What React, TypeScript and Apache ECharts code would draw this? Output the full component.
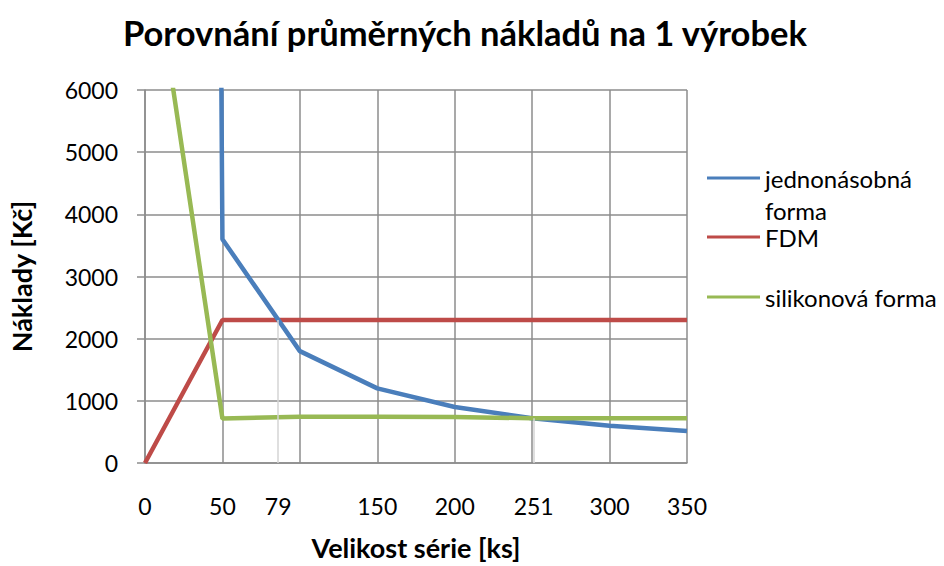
import React, { useEffect, useRef } from "react";
import * as echarts from "echarts";

const titleText = "Porovnání průměrných nákladů na 1 výrobek";
const xAxisName = "Velikost série [ks]";
const yAxisName = "Náklady [Kč]";

const seriesNames = ["jednonásobná forma", "FDM", "silikonová forma"];
const seriesColors = ["#4A7EBB", "#BE4B48", "#98B954"];

const singleMold: [number, number][] = [
  [1, 180000], [50, 3600], [100, 1800], [150, 1200], [200, 900], [250, 720], [300, 600], [350, 514],
];
const fdm: [number, number][] = [
  [0, 0], [50, 2300], [100, 2300], [150, 2300], [200, 2300], [250, 2300], [300, 2300], [350, 2300],
];
const silicone: [number, number][] = [
  [1, 8880], [50, 715], [100, 745], [150, 745], [200, 740], [250, 720], [300, 720], [350, 720],
];

// crossing points marked by drop lines
const crossX = [86, 251];
const crossY = [2300, 720];

// x-axis labels (positions and texts)
const xLabelPos = [0, 50, 86, 150, 200, 251, 300, 350];
const xLabelText = ["0", "50", "79", "150", "200", "251", "300", "350"];

const FONT = "Lato";

export default function App() {
  const ref = useRef<HTMLDivElement>(null);
  useEffect(() => {
    if (!ref.current) return;
    const chart = echarts.init(ref.current, null, { renderer: "svg" });
    const gridColor = "#8C8C8C";
    const legendBase = {
      orient: "vertical",
      left: 707,
      padding: 0,
      itemWidth: 53,
      itemHeight: 3,
      icon: "rect",
      selectedMode: false,
    };
    const legendText = { fontFamily: FONT, fontSize: 24, color: "#000", lineHeight: 32 };
    chart.setOption({
      animation: false,
      backgroundColor: "#FFFFFF",
      textStyle: { fontFamily: FONT },
      title: {
        text: titleText,
        left: 118,
        top: 10,
        textStyle: { fontFamily: FONT, fontSize: 34.5, fontWeight: "bold", color: "#000" },
      },
      grid: { left: 145, top: 90, width: 542, height: 374, containLabel: false },
      legend: [
        {
          ...legendBase,
          top: 130,
          data: [seriesNames[0]],
          formatter: (name: string) => " \n" + name.split(" ").join("\n"),
          itemStyle: { color: seriesColors[0] },
          textStyle: legendText,
        },
        {
          ...legendBase,
          top: 221,
          data: [seriesNames[1]],
          itemStyle: { color: seriesColors[1] },
          textStyle: legendText,
        },
        {
          ...legendBase,
          top: 281,
          data: [seriesNames[2]],
          itemStyle: { color: seriesColors[2] },
          textStyle: legendText,
        },
      ],
      xAxis: {
        type: "value",
        min: 0,
        max: 350,
        interval: 50,
        name: xAxisName,
        nameLocation: "middle",
        nameGap: 71,
        nameTextStyle: { fontFamily: FONT, fontSize: 27, fontWeight: "bold", color: "#000" },
        axisLine: { show: true, lineStyle: { color: gridColor, width: 1.5 } },
        axisTick: { show: false },
        splitLine: { show: true, lineStyle: { color: gridColor, width: 1.5 } },
        axisLabel: {
          customValues: xLabelPos,
          formatter: (v: number) => {
            const i = xLabelPos.indexOf(v);
            return i >= 0 ? xLabelText[i] : "";
          },
          margin: 31,
          fontFamily: FONT,
          fontSize: 23,
          color: "#000",
        },
      },
      yAxis: {
        type: "value",
        min: 0,
        max: 6000,
        interval: 1000,
        name: yAxisName,
        nameLocation: "middle",
        nameGap: 110,
        nameRotate: 90,
        nameTextStyle: { fontFamily: FONT, fontSize: 27, fontWeight: "bold", color: "#000" },
        axisLine: { show: true, lineStyle: { color: gridColor, width: 1.5 } },
        axisTick: { show: true, inside: false, length: 8, lineStyle: { color: gridColor, width: 1.5 } },
        splitLine: { show: true, lineStyle: { color: gridColor, width: 1.5 } },
        axisLabel: {
          margin: 27,
          fontFamily: FONT,
          fontSize: 23,
          color: "#000",
          formatter: (v: number) => String(v),
        },
      },
      series: [
        {
          name: seriesNames[0],
          type: "line",
          data: singleMold,
          symbol: "none",
          clip: true,
          lineStyle: { color: seriesColors[0], width: 4.5 },
          itemStyle: { color: seriesColors[0] },
          z: 3,
        },
        {
          name: seriesNames[1],
          type: "line",
          data: fdm,
          symbol: "none",
          clip: true,
          lineStyle: { color: seriesColors[1], width: 4.5 },
          itemStyle: { color: seriesColors[1] },
          z: 2,
        },
        {
          name: seriesNames[2],
          type: "line",
          data: silicone,
          symbol: "none",
          clip: true,
          lineStyle: { color: seriesColors[2], width: 4.5 },
          itemStyle: { color: seriesColors[2] },
          z: 4,
          markLine: {
            silent: true,
            symbol: ["none", "none"],
            label: { show: false },
            lineStyle: { color: "#D4D4D4", width: 1.5, type: "solid" },
            z: 10,
            data: crossX.map((x, i) => [{ coord: [x, crossY[i]] }, { coord: [x, 0] }]),
          },
        },
      ],
    });
    return () => chart.dispose();
  }, []);
  return <div ref={ref} style={{ position: "absolute", left: 0, top: 0, width: 944, height: 566 }} />;
}
